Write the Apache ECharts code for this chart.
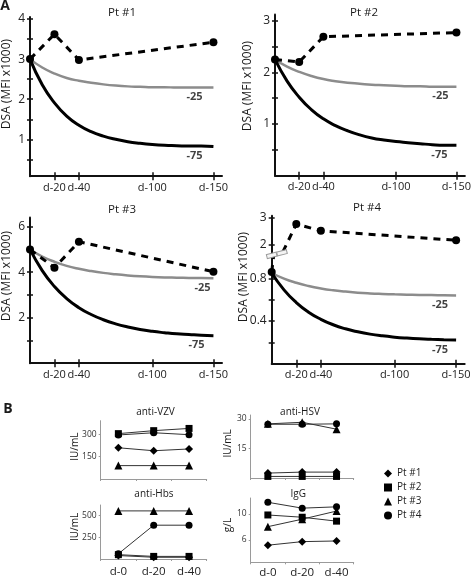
<!DOCTYPE html>
<html><head><meta charset="utf-8">
<script src="https://cdn.jsdelivr.net/npm/echarts@6/dist/echarts.min.js"></script>
<style>html,body{margin:0;padding:0;background:#fff}#c{width:474px;height:579px}</style>
</head><body><div id="c"></div>
<script>
// ---------- Panel A data (DSA, MFI x1000) ----------
const dsaDays = [0, 20, 40, 150];
const pt1Dsa = [3.0, 3.62, 2.98, 3.42];
const pt2Dsa = [2.25, 2.2, 2.69, 2.77];
const pt3Dsa = [5.0, 4.2, 5.34, 4.02];
const pt4Dsa = [0.86, 2.75, 2.5, 2.15];

const curveDays = [0, 10, 20, 30, 40, 50, 60, 70, 80, 90, 100, 110, 120, 130, 140, 150];
const pt1Minus25 = [3, 2.79, 2.64, 2.53, 2.46, 2.41, 2.37, 2.34, 2.32, 2.31, 2.30, 2.30, 2.29, 2.29, 2.29, 2.29];
const pt1Minus75 = [3, 2.36, 1.91, 1.58, 1.35, 1.19, 1.08, 1.00, 0.94, 0.90, 0.87, 0.85, 0.84, 0.83, 0.83, 0.82];
const pt2Minus25 = [2.25, 2.11, 2.01, 1.93, 1.87, 1.83, 1.80, 1.78, 1.76, 1.75, 1.74, 1.73, 1.73, 1.72, 1.72, 1.72];
const pt2Minus75 = [2.25, 1.83, 1.52, 1.28, 1.10, 0.97, 0.87, 0.79, 0.73, 0.69, 0.66, 0.64, 0.62, 0.60, 0.59, 0.59];
const pt3Minus25 = [5, 4.69, 4.46, 4.28, 4.15, 4.05, 3.97, 3.91, 3.86, 3.82, 3.79, 3.77, 3.76, 3.75, 3.74, 3.73];
const pt3Minus75 = [5, 4.07, 3.37, 2.84, 2.44, 2.14, 1.91, 1.73, 1.59, 1.48, 1.40, 1.34, 1.29, 1.26, 1.23, 1.21];
const pt4Minus25 = [0.85, 0.797, 0.758, 0.728, 0.705, 0.688, 0.676, 0.666, 0.659, 0.654, 0.650, 0.647, 0.644, 0.643, 0.641, 0.640];
const pt4Minus75 = [0.85, 0.692, 0.573, 0.483, 0.416, 0.365, 0.327, 0.299, 0.277, 0.261, 0.249, 0.240, 0.233, 0.228, 0.224, 0.221];

const dayTicks = [20, 40, 100, 150];
const pt1YTicks = [0.5, 1, 1.5, 2, 2.5, 3, 3.5, 4];
const pt1YLabels = [1, 2, 3, 4];
const pt2YTicks = [0.5, 1, 1.5, 2, 2.5, 3];
const pt2YLabels = [1, 2, 3];
const pt3YTicks = [1, 2, 3, 4, 5, 6];
const pt3YLabels = [2, 4, 6];
const pt4LowTicks = [0.2, 0.4, 0.6, 0.8];
const pt4LowLabels = [0.4, 0.8];
const pt4UpTicks = [2, 3];
const pt4UpLabels = [2, 3];

// ---------- Panel B data ----------
const bDays = ['d-0', 'd-20', 'd-40'];
const ptNames = ['Pt #1', 'Pt #2', 'Pt #3', 'Pt #4'];
const vzvPt1 = [210, 190, 202];
const vzvPt2 = [305, 325, 340];
const vzvPt3 = [90, 90, 90];
const vzvPt4 = [296, 311, 298];
const hbsPt1 = [40, 20, 20];
const hbsPt2 = [50, 30, 30];
const hbsPt3 = [555, 555, 555];
const hbsPt4 = [60, 390, 390];
const hsvPt1 = [2.5, 3.0, 3.0];
const hsvPt2 = [0.8, 0.8, 0.8];
const hsvPt3 = [27.5, 28.3, 24.8];
const hsvPt4 = [27.3, 27.3, 27.5];
const iggPt1 = [5.2, 5.75, 5.85];
const iggPt2 = [9.85, 9.5, 8.9];
const iggPt3 = [8.05, 9.2, 10.45];
const iggPt4 = [11.8, 10.9, 11.1];
const vzvLabels = [150, 300];
const hbsLabels = [250, 500];
const hsvLabels = [15, 30];
const iggLabels = [6, 10];

// ---------- build ----------
const FONT = 'Open Sans';
const AX = '#111';
const GR = '#9a9a9a';
const grids = [], xAxes = [], yAxes = [], series = [], graphics = [];

function addGrid(g) { grids.push(Object.assign({ containLabel: false }, g)); return grids.length - 1; }

function addAxesA(gi, o) {
  const showX = o.showX !== false;
  const xi = xAxes.length;
  xAxes.push({ gridIndex: gi, type: 'value', min: 0, max: 157, position: 'bottom',
    axisLine: { show: showX, onZero: false, lineStyle: { color: AX, width: 2 } },
    axisTick: { show: showX, inside: false, length: 4, customValues: dayTicks, lineStyle: { color: AX, width: 1.5 } },
    axisLabel: { show: showX, customValues: dayTicks, formatter: v => 'd-' + v, hideOverlap: false,
      fontFamily: FONT, fontSize: 11, color: '#222', margin: 6 },
    splitLine: { show: false } });
  xAxes.push({ gridIndex: gi, type: 'value', min: 0, max: 157, position: 'bottom',
    axisLine: { show: false }, axisLabel: { show: false }, splitLine: { show: false },
    axisTick: { show: showX, inside: true, length: 4, customValues: dayTicks, lineStyle: { color: AX, width: 1.5 } } });
  const yi = yAxes.length;
  yAxes.push({ gridIndex: gi, type: 'value', min: o.min, max: o.max, position: 'left',
    axisLine: { show: true, onZero: false, lineStyle: { color: AX, width: 2 } },
    axisTick: { show: true, inside: false, length: 3, customValues: o.ticks, lineStyle: { color: AX, width: 1.5 } },
    axisLabel: { customValues: o.labels, hideOverlap: false, fontFamily: FONT, fontSize: 12, color: '#222', margin: 5 },
    splitLine: { show: false } });
  yAxes.push({ gridIndex: gi, type: 'value', min: o.min, max: o.max, position: 'left',
    axisLine: { show: false }, axisLabel: { show: false }, splitLine: { show: false },
    axisTick: { show: true, inside: true, length: 3, customValues: o.ticks, lineStyle: { color: AX, width: 1.5 } } });
  return { xi, yi };
}

function addCurve(ax, vals, color, width, text, dx) {
  series.push({ type: 'line', xAxisIndex: ax.xi, yAxisIndex: ax.yi, smooth: true,
    symbol: 'none', silent: true, z: 2, lineStyle: { color, width },
    data: curveDays.map((d, i) => [d, vals[i]]) });
  const last = curveDays.length - 1;
  series.push({ type: 'scatter', xAxisIndex: ax.xi, yAxisIndex: ax.yi, symbolSize: 1, silent: true, z: 1,
    itemStyle: { color: 'rgba(0,0,0,0)' },
    label: { show: true, position: 'bottom', formatter: text, offset: [dx, -1.5], fontFamily: FONT,
      fontWeight: 'bold', fontSize: 11, color: '#111' },
    data: [[curveDays[last], vals[last]]] });
}

function dashedData(vals, hide) {
  return dsaDays.map((d, i) => hide.indexOf(i) >= 0 ? { value: [d, vals[i]], symbol: 'none' } : [d, vals[i]]);
}
function addDashed(ax, data) {
  series.push({ type: 'line', xAxisIndex: ax.xi, yAxisIndex: ax.yi, z: 4, silent: true,
    symbol: 'circle', symbolSize: 8, showAllSymbol: true, itemStyle: { color: '#000' },
    lineStyle: { color: '#000', width: 3, type: [7, 6] }, data });
}

// Pt #1
const g1 = addGrid({ left: 30, top: 17, width: 192, height: 159.2 });
const a1 = addAxesA(g1, { min: 0.08, max: 4.05, ticks: pt1YTicks, labels: pt1YLabels });
addCurve(a1, pt1Minus25, '#8c8c8c', 2.5, '-25', -19);
addCurve(a1, pt1Minus75, '#000', 3, '-75', -19);
addDashed(a1, dashedData(pt1Dsa, []));
// Pt #2
const g2 = addGrid({ left: 275, top: 14.5, width: 193, height: 161.2 });
const a2 = addAxesA(g2, { min: 0, max: 3.12, ticks: pt2YTicks, labels: pt2YLabels });
addCurve(a2, pt2Minus25, '#8c8c8c', 2.5, '-25', -16);
addCurve(a2, pt2Minus75, '#000', 3, '-75', -17);
addDashed(a2, dashedData(pt2Dsa, []));
// Pt #3
const g3 = addGrid({ left: 30, top: 217.6, width: 192, height: 145.6 });
const a3 = addAxesA(g3, { min: 0, max: 6.4, ticks: pt3YTicks, labels: pt3YLabels });
addCurve(a3, pt3Minus25, '#8c8c8c', 2.5, '-25', -11);
addCurve(a3, pt3Minus75, '#000', 3, '-75', -17);
addDashed(a3, dashedData(pt3Dsa, []));
// Pt #4 (broken axis: upper and lower parts)
const UP_MIN = 1.65, LOW_MAX = 1.0;
const g4u = addGrid({ left: 271.7, top: 215.7, width: 193, height: 38.1 });
const a4u = addAxesA(g4u, { min: UP_MIN, max: 3.06, ticks: pt4UpTicks, labels: pt4UpLabels, showX: false });
const g4l = addGrid({ left: 271.7, top: 257, width: 193, height: 106.7 });
const a4l = addAxesA(g4l, { min: 0, max: LOW_MAX, ticks: pt4LowTicks, labels: pt4LowLabels });
yAxes[a4l.yi].axisLabel.formatter = v => String(v);
addCurve(a4l, pt4Minus25, '#8c8c8c', 2.5, '-25', -16);
addCurve(a4l, pt4Minus75, '#000', 3, '-75', -16);
addDashed(a4u, dashedData(pt4Dsa, [0]));
addDashed(a4l, dashedData(pt4Dsa, [1, 2, 3]));

// Panel B
function addAxesB(gi, o) {
  const xi = xAxes.length;
  xAxes.push({ gridIndex: gi, type: 'category', data: bDays, boundaryGap: true, position: 'bottom',
    axisLine: { show: true, onZero: false, lineStyle: { color: GR, width: 1 } },
    axisTick: { show: true, length: 2, lineStyle: { color: GR } },
    axisLabel: { show: o.showX, interval: 0, hideOverlap: false, fontFamily: FONT, fontSize: 11.5, color: '#222', margin: o.margin || 6 },
    splitLine: { show: false } });
  const yi = yAxes.length;
  yAxes.push({ gridIndex: gi, type: 'value', min: o.min, max: o.max, position: 'left',
    axisLine: { show: true, onZero: false, lineStyle: { color: GR, width: 1 } },
    axisTick: { show: true, length: 2, customValues: o.labels, lineStyle: { color: GR } },
    axisLabel: { customValues: o.labels, fontFamily: FONT, fontSize: 8.5, color: '#333', margin: 4 },
    splitLine: { show: false } });
  return { xi, yi };
}
const ptSymbols = ['diamond', 'rect', 'triangle', 'circle'];
const ptSizes = [8, 7, 8, 7];
function addB(ax, lists) {
  lists.forEach((vals, i) => series.push({ name: ptNames[i], type: 'line', xAxisIndex: ax.xi, yAxisIndex: ax.yi,
    data: vals, symbol: ptSymbols[i], symbolSize: ptSizes[i], showAllSymbol: true, z: 3,
    itemStyle: { color: '#000' }, lineStyle: { color: '#333', width: 1 } }));
}
const gV = addGrid({ left: 100.7, top: 420.7, width: 106, height: 58.3 });
addB(addAxesB(gV, { min: 0, max: 392, labels: vzvLabels, showX: false }), [vzvPt1, vzvPt2, vzvPt3, vzvPt4]);
const gH = addGrid({ left: 100.7, top: 505, width: 106, height: 54 });
addB(addAxesB(gH, { min: 0, max: 623, labels: hbsLabels, showX: true, margin: 7 }), [hbsPt1, hbsPt2, hbsPt3, hbsPt4]);
const gS = addGrid({ left: 250.7, top: 415, width: 103, height: 63 });
addB(addAxesB(gS, { min: 0, max: 32, labels: hsvLabels, showX: false }), [hsvPt1, hsvPt2, hsvPt3, hsvPt4]);
const gG = addGrid({ left: 250.7, top: 498, width: 103, height: 64.3 });
addB(addAxesB(gG, { min: 2.57, max: 12.46, labels: iggLabels, showX: true, margin: 4 }), [iggPt1, iggPt2, iggPt3, iggPt4]);

// texts
function txt(t, x, y, size, weight, rot) {
  graphics.push({ type: 'text', x, y, rotation: rot || 0, silent: true,
    style: { text: t, fill: '#1a1a1a', fontFamily: FONT, fontSize: size, fontWeight: weight || 'normal',
      align: 'center', verticalAlign: 'middle' } });
}
txt('A', 5, 6, 14, 'bold');
txt('B', 8, 409, 14, 'bold');
txt('Pt #1', 122, 13, 11.5);
txt('Pt #2', 364, 13, 11.5);
txt('Pt #3', 122, 210, 11.5);
txt('Pt #4', 367, 208, 11.5);
const R = Math.PI / 2;
txt('DSA (MFI x1000)', 7, 84, 12, 'normal', R);
txt('DSA (MFI x1000)', 248, 86, 12, 'normal', R);
txt('DSA (MFI x1000)', 7, 276, 12, 'normal', R);
txt('DSA (MFI x1000)', 244, 277, 12, 'normal', R);
txt('anti-VZV', 155.5, 412.3, 10);
txt('anti-Hbs', 154, 494, 10);
txt('anti-HSV', 300, 411.7, 10);
txt('IgG', 298.3, 494, 10);
txt('IU/mL', 75, 446.7, 10, 'normal', R);
txt('IU/mL', 75, 527, 10, 'normal', R);
txt('IU/mL', 228.5, 443.5, 10, 'normal', R);
txt('g/L', 228, 525, 10, 'normal', R);

const chart = echarts.init(document.getElementById('c'), null, { renderer: 'canvas' });
chart.setOption({
  animation: false,
  backgroundColor: '#fff',
  grid: grids, xAxis: xAxes, yAxis: yAxes, series,
  legend: { orient: 'vertical', left: 379, top: 463.5, itemWidth: 8, itemHeight: 8, itemGap: 4,
    selectedMode: false,
    textStyle: { fontFamily: FONT, fontSize: 10, color: '#222' },
    data: ptNames.map((n, i) => ({ name: n, icon: ptSymbols[i] })) },
  graphic: graphics
});

// axis-break marks for Pt #4
const lowTop = chart.convertToPixel({ gridIndex: g4l }, [0, LOW_MAX]);
const upBot = chart.convertToPixel({ gridIndex: g4u }, [0, UP_MIN]);
const tCross = dsaDays[0] + (dsaDays[1] - dsaDays[0]) * (UP_MIN - pt4Dsa[0]) / (pt4Dsa[1] - pt4Dsa[0]);
const lineCross = chart.convertToPixel({ gridIndex: g4u }, [tCross, UP_MIN]);
function brk(id, x, y) {
  return { id, type: 'rect', x, y, rotation: 0.25, z: 100, silent: true,
    shape: { x: -5, y: -2, width: 10, height: 4 },
    style: { fill: '#f4f4f4', stroke: '#9a9a9a', lineWidth: 1 } };
}
chart.setOption({ graphic: graphics.concat([
  brk('b1', lowTop[0], (lowTop[1] + upBot[1]) / 2),
  brk('b2', lineCross[0], lineCross[1] - 1)
]) });
</script></body></html>
